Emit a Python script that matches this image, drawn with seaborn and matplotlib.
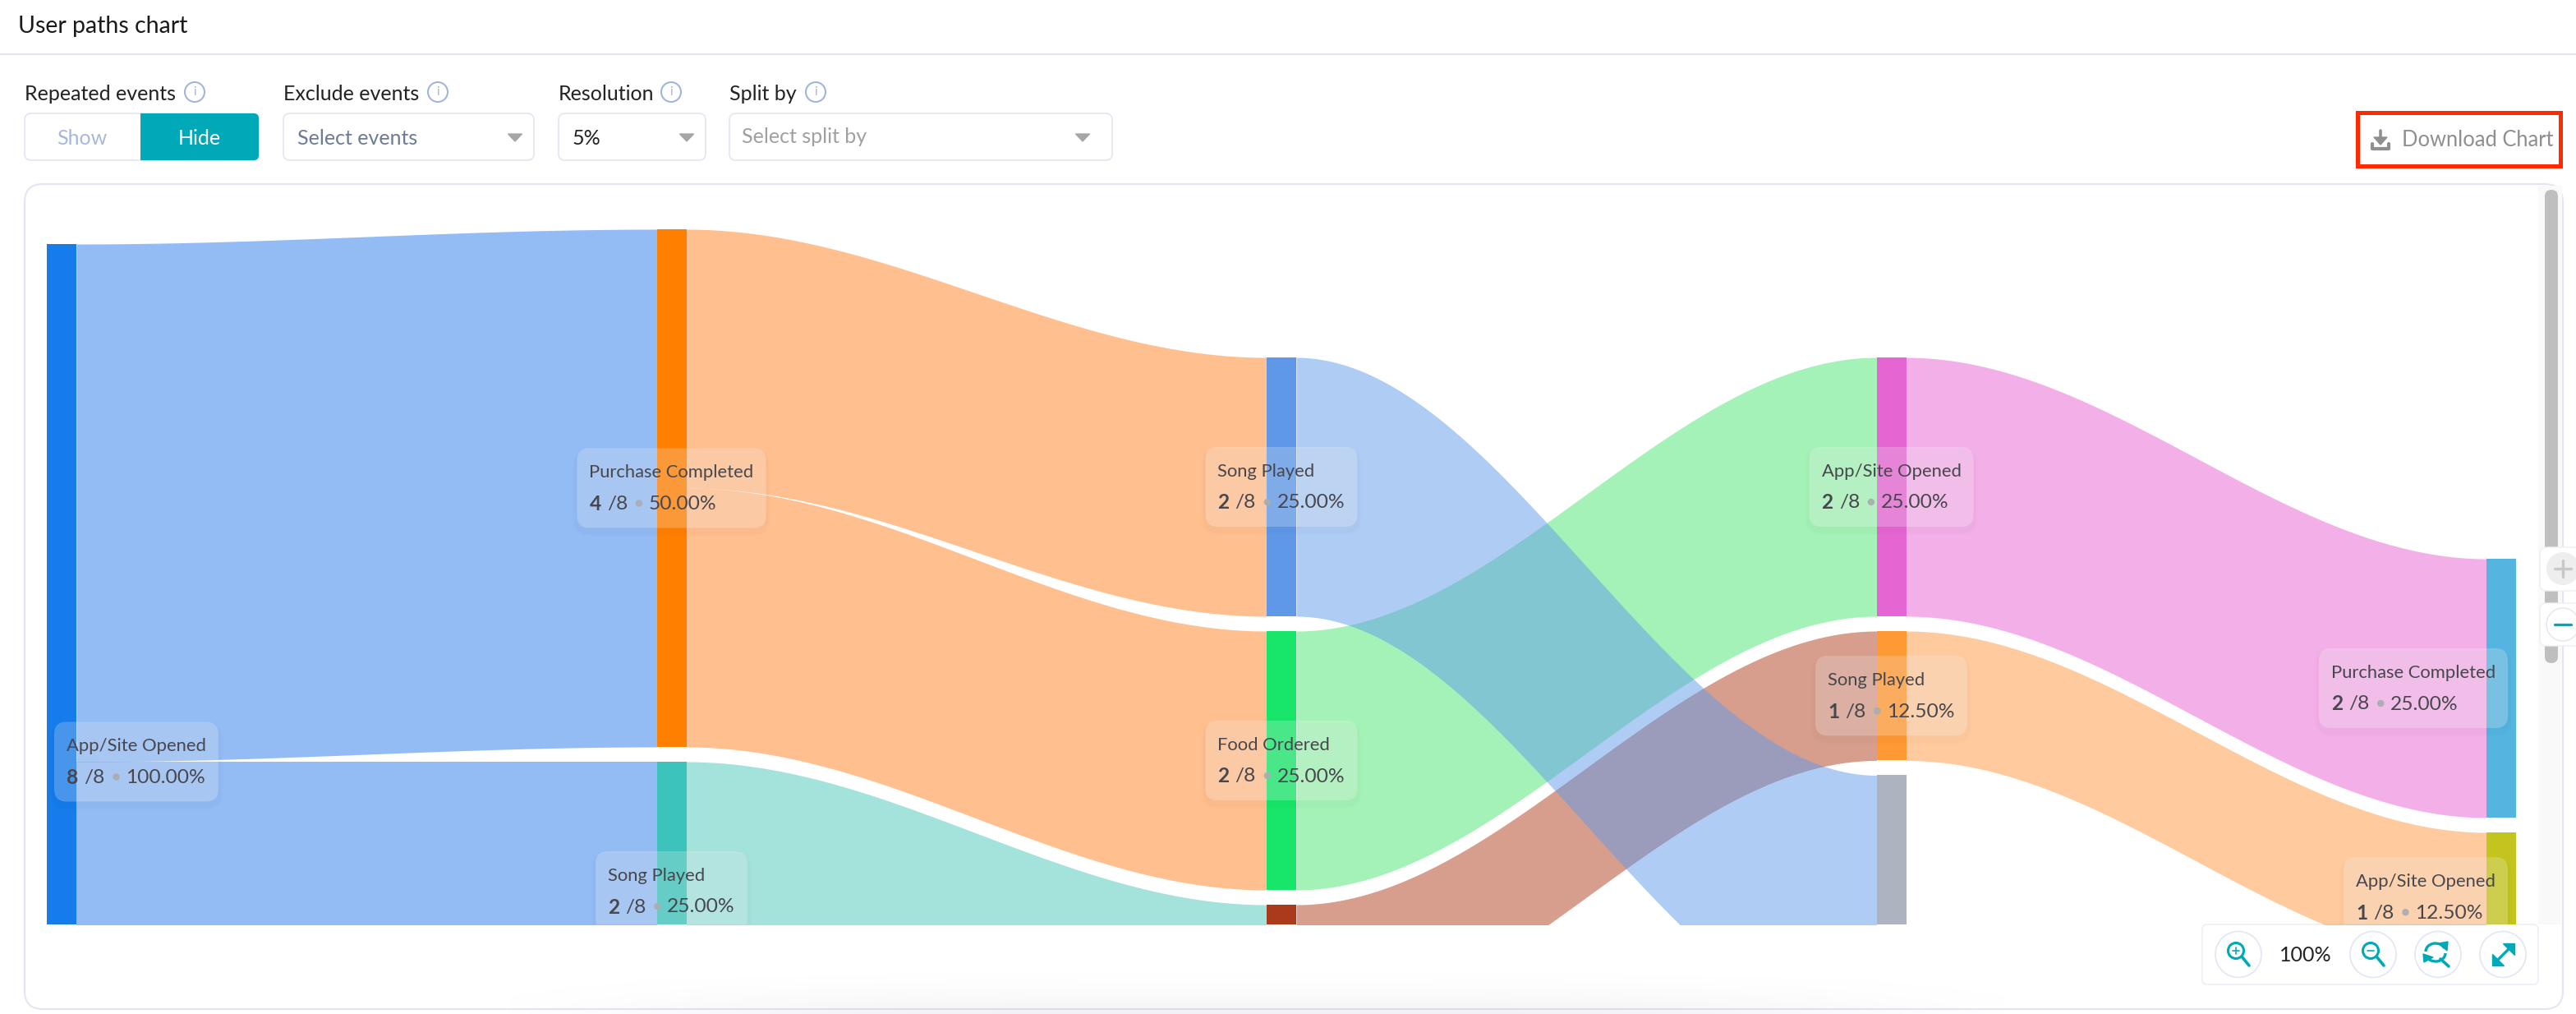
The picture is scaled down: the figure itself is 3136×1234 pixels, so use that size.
"""
User paths chart: sankey de eventos com a moldura da tela do produto.
"""
import numpy as np
import pandas as pd
import matplotlib
matplotlib.use('Agg')
import matplotlib.pyplot as plt
import seaborn as sns
from matplotlib.patches import FancyBboxPatch, Rectangle, Circle, Polygon, Arc

# dados do sankey
STEP_NAMES = [
    ['App/Site Opened'],
    ['Purchase Completed', 'Song Played'],
    ['Song Played', 'Food Ordered', None],
    ['App/Site Opened', 'Song Played', None],
    ['Purchase Completed', 'App/Site Opened'],
]
STEP_USERS = [[8], [4, 2], [2, 2, 2], [2, 1, 2], [2, 1]]
STEP_COLORS = [
    ['#167ceb'],
    ['#ff8000', '#3cc4bc'],
    ['#6098e8', '#18e66a', '#ab3a1c'],
    ['#e566d2', '#ff9933', '#aeb4bf'],
    ['#55b5e0', '#c4c41f'],
]
# (etapa de origem, nó de origem, nó de destino, usuários)
FLOW_STEP = [0, 0, 1, 1, 1, 2, 2, 2, 3, 3]
FLOW_SRC = [0, 0, 0, 0, 1, 1, 2, 0, 0, 1]
FLOW_DST = [0, 1, 0, 1, 2, 0, 1, 2, 0, 1]
FLOW_USERS = [4, 2, 2, 2, 2, 2, 1, 2, 2, 1]
FLOW_COLORS = ['#2979eb', '#2979eb', '#ff8121', '#ff8121', '#4bc7bb',
               '#4be771', '#b13f1d', '#619beb', '#e963d3', '#ff993f']
TOTAL_USERS = 8

# layout em pixels
W, H = 3136, 1234
STEP_X0, STEP_DX = 75, 742.5
NODE_W = 36
USER_H = 157.5
NODE_GAP = 18
COL_TOPS = [297, 279, 435, 435, 680]
CLIP_TOP, CLIP_BOTTOM = 224, 1125
CURVE = 0.35
FLOW_ALPHA = 0.5

TEAL = '#00a9b8'
BORDER = '#e2e6f3'
INFO = '#a3b5dc'
FONT = 'Lato'
FS_LABEL = 22
FS_COUNT = 24.5
DARK = '#47474d'

sns.set_theme(style='white', font=FONT)
plt.rcParams['font.family'] = [FONT, 'DejaVu Sans']


def fpx(px):
    """Tamanho de fonte em pixels -> pontos (dpi 100)"""
    return px * 0.72


def rbox(ax, x0, y0, x1, y1, r=10, **kw):
    p = FancyBboxPatch((x0, y0), x1 - x0, y1 - y0,
                       boxstyle=f'round,pad=0,rounding_size={r}', **kw)
    ax.add_patch(p)
    return p


def node_tops(step):
    """Topo de cada nó da etapa, em unidades de usuários"""
    top = (COL_TOPS[step] - COL_TOPS[1]) / USER_H
    tops = []
    for users in STEP_USERS[step]:
        tops.append(top)
        top += users + NODE_GAP / USER_H
    return tops


def draw_flows(ax):
    hw = NODE_W / STEP_DX / 2
    t = np.linspace(0, 1, 300)
    src_used = {}
    dst_used = {}
    for step, src, dst, users, color in zip(FLOW_STEP, FLOW_SRC, FLOW_DST, FLOW_USERS, FLOW_COLORS):
        s0 = node_tops(step)[src] + src_used.get((step, src), 0)
        d0 = node_tops(step + 1)[dst] + dst_used.get((step + 1, dst), 0)
        src_used[(step, src)] = src_used.get((step, src), 0) + users
        dst_used[(step + 1, dst)] = dst_used.get((step + 1, dst), 0) + users

        x0, x1 = step + hw, step + 1 - hw
        fx = 3 * (1 - t) ** 2 * t * CURVE + 3 * (1 - t) * t ** 2 * (1 - CURVE) + t ** 3
        fy = 3 * t ** 2 - 2 * t ** 3
        x = x0 + (x1 - x0) * fx
        upper = s0 + (d0 - s0) * fy
        lower = upper + users
        ax.fill_between(x, upper, lower, color=color, alpha=FLOW_ALPHA, linewidth=0, zorder=1)


def draw_nodes(ax):
    rows = []
    for step, users in enumerate(STEP_USERS):
        for i, u in enumerate(users):
            rows.append({'step': step, 'users': u, 'top': node_tops(step)[i],
                         'color': STEP_COLORS[step][i]})
    nodes = pd.DataFrame(rows)
    for _, row in nodes.iterrows():
        sns.barplot(x=[row['step']], y=[row['users']], bottom=row['top'],
                    color=row['color'], saturation=1, errorbar=None,
                    native_scale=True, width=NODE_W / STEP_DX, linewidth=0,
                    ax=ax, zorder=3)


def draw_label(ax, renderer, cx, cy, name, users):
    """Caixa translúcida com nome, contagem e percentual"""
    probe = ax.text(0, 0, name, fontsize=fpx(FS_LABEL))
    name_w = probe.get_window_extent(renderer).width
    probe.remove()
    pct = f'{users / TOTAL_USERS * 100:.2f}%'
    parts = [(str(users), 'bold', 0), (f'/{TOTAL_USERS}', 'normal', 7)]
    line_w = 0
    for txt, weight, gap in parts:
        probe = ax.text(0, 0, txt, fontsize=fpx(FS_COUNT), fontweight=weight)
        line_w += probe.get_window_extent(renderer).width + gap
        probe.remove()
    probe = ax.text(0, 0, pct, fontsize=fpx(FS_COUNT))
    pct_w = probe.get_window_extent(renderer).width
    probe.remove()
    line_w += 26 + pct_w

    w = max(name_w, line_w) + 30
    x0 = max(66, min(cx - w / 2, 3053 - w))
    y0 = cy - 48.5
    # sombra só por fora da caixa, para não escurecer o miolo
    for grow, a in [(5, 0.006), (3, 0.01)]:
        rbox(ax, x0 - grow, y0 - grow + 5, x0 + w + grow, y0 + 97 + grow + 5, r=15 + grow,
             facecolor='black', edgecolor='none', alpha=a, zorder=4)
    rbox(ax, x0, y0, x0 + w, y0 + 97, r=15, facecolor='white', edgecolor='none',
         alpha=0.22, zorder=5)

    tx = x0 + 15
    ax.text(tx, y0 + 30, name, fontsize=fpx(FS_LABEL), color=DARK, va='center',
            clip_on=True, zorder=6)
    x = tx
    for txt, weight, gap in parts:
        x += gap
        t = ax.text(x, y0 + 68, txt, fontsize=fpx(FS_COUNT), fontweight=weight, color=DARK,
                    va='center', clip_on=True, zorder=6)
        x += t.get_window_extent(renderer).width
    ax.add_patch(Circle((x + 14, y0 + 67), 3.5, color='#a9adb0', alpha=0.9, zorder=6))
    ax.text(x + 26, y0 + 68, pct, fontsize=fpx(FS_COUNT), color=DARK, va='center',
            clip_on=True, zorder=6)


def draw_magnifier(ax, cx, cy, sign):
    ax.add_patch(Circle((cx - 3, cy - 4), 9.5, fill=False, edgecolor=TEAL, linewidth=2.2, zorder=4))
    ax.plot([cx + 4, cx + 13], [cy + 3, cy + 14], color=TEAL, linewidth=2.6, zorder=4)
    ax.plot([cx - 7, cx + 1], [cy - 4, cy - 4], color=TEAL, linewidth=1.2, zorder=4)
    if sign == '+':
        ax.plot([cx - 3, cx - 3], [cy - 8, cy], color=TEAL, linewidth=1.2, zorder=4)


def draw_chrome(ax):
    ax.plot([0, W], [65.5, 65.5], color='#e3e6f0', linewidth=1.5)
    ax.text(22, 32, 'User paths chart', fontsize=fpx(28.5), color='#1a1a1a', va='center')

    # filtros
    for x, label, ix in [(30, 'Repeated events', 237), (345, 'Exclude events', 533),
                         (680, 'Resolution', 817), (888, 'Split by', 993)]:
        ax.text(x, 115, label, fontsize=fpx(25), color='#222222', va='center')
        ax.add_patch(Circle((ix, 112), 12, fill=False, edgecolor=INFO, linewidth=1.5))
        ax.text(ix, 112, 'i', fontsize=fpx(15), color=INFO, ha='center', va='center')

    rbox(ax, 30, 138, 315, 195, r=8, facecolor='white', edgecolor=BORDER, linewidth=1.2)
    rbox(ax, 171, 138, 315, 195, r=6, facecolor=TEAL, edgecolor='none')
    ax.add_patch(Rectangle((171, 138), 20, 57, facecolor=TEAL, edgecolor='none'))
    ax.text(100, 168, 'Show', fontsize=fpx(25), color='#a9b8da', ha='center', va='center')
    ax.text(243, 168, 'Hide', fontsize=fpx(25), color='white', ha='center', va='center')

    selects = [(345, 650, 'Select events', 362, 169, '#6f7b96', 627),
               (680, 859, '5%', 697, 169, '#222222', 836),
               (888, 1354, 'Select split by', 903, 166, '#a0a0a0', 1318)]
    for x0, x1, txt, tx, ty, col, tri in selects:
        rbox(ax, x0, 138, x1, 195, r=8, facecolor='white', edgecolor=BORDER, linewidth=1.2)
        ax.text(tx, ty, txt, fontsize=fpx(25), color=col, va='center')
        ax.add_patch(Polygon([(tri - 8.5, 163), (tri + 8.5, 163), (tri, 172)], color='#a6a6a6'))

    # download
    ax.add_patch(Rectangle((2870.5, 136.5), 247, 65, fill=False, edgecolor='#ff2a00', linewidth=3.6))
    gray = '#8f8f8f'
    ax.plot([2898, 2898], [159, 174], color=gray, linewidth=2.6)
    ax.add_patch(Polygon([(2890, 167), (2906, 167), (2898, 176)], color=gray))
    ax.plot([2888.5, 2888.5, 2908.5, 2908.5], [175, 181, 181, 175], color=gray, linewidth=3,
            solid_joinstyle='round')
    ax.text(2924, 171, 'Download Chart', fontsize=fpx(25.5), color=gray, va='center')

    # painel do gráfico
    rbox(ax, 30, 224, 3120, 1228, r=22, facecolor='white', edgecolor=BORDER, linewidth=1.5)

    # sombra difusa embaixo do painel
    xx = np.linspace(-1, 1, 400)
    yy = np.linspace(0, 1, 60)
    shade = np.exp(-(xx / 0.8) ** 4)[None, :] * (yy[:, None] ** 2)
    rgba = np.zeros((60, 400, 4))
    rgba[..., :3] = 0.55
    rgba[..., 3] = 0.11 * shade
    ax.imshow(rgba, extent=(620, 2440, H, H - 60), aspect='auto', zorder=2)
    ax.set_xlim(0, W)
    ax.set_ylim(H, 0)

    # barra de rolagem
    ax.add_patch(Rectangle((3090, 226), 29, CLIP_BOTTOM - 226, facecolor='#f9f9f9', edgecolor='none', zorder=2))
    rbox(ax, 3098, 231, 3114, 807, r=8, facecolor='#bfbfbf', edgecolor='none', zorder=2)
    for y0, y1 in [(666, 719), (734, 786)]:
        rbox(ax, 3092, y0, 3150, y1, r=8, facecolor='white', edgecolor='#eef0f5', linewidth=1, zorder=3)
    ax.add_patch(Circle((3120, 692), 20, facecolor='#eeeeee', edgecolor='none', zorder=4))
    ax.plot([3110, 3130], [692, 692], color='#c8c8c8', linewidth=2.4, zorder=5)
    ax.plot([3120, 3120], [682, 702], color='#c8c8c8', linewidth=2.4, zorder=5)
    ax.add_patch(Circle((3120, 760), 20, facecolor='white', edgecolor=BORDER, linewidth=1, zorder=4))
    ax.plot([3110, 3130], [760, 760], color=TEAL, linewidth=2.4, zorder=5)

    # controles de zoom
    rbox(ax, 2681, 1125, 3090, 1198, r=6, facecolor='white', edgecolor='#eceff7', linewidth=1.2, zorder=3)
    for cx in [2725, 2889, 2968, 3047]:
        ax.add_patch(Circle((cx, 1161.5), 28, facecolor='white', edgecolor=BORDER, linewidth=1.2, zorder=3))
    ax.text(2807, 1162, '100%', fontsize=fpx(25), color='#222222', ha='center', va='center', zorder=4)
    draw_magnifier(ax, 2725, 1161, '+')
    draw_magnifier(ax, 2889, 1161, '-')
    ax.add_patch(Arc((2965, 1158), 24, 20, theta1=180, theta2=340, color=TEAL, linewidth=2.4, zorder=4))
    ax.add_patch(Arc((2965, 1160), 24, 20, theta1=0, theta2=160, color=TEAL, linewidth=2.4, zorder=4))
    ax.add_patch(Polygon([(2969, 1148), (2980, 1146), (2979, 1157)], color=TEAL, zorder=4))
    ax.add_patch(Polygon([(2950, 1161), (2962, 1165), (2951, 1171)], color=TEAL, zorder=4))
    ax.plot([2971, 2981], [1167, 1176], color=TEAL, linewidth=2.6, zorder=4)
    ax.plot([3038, 3057], [1171, 1152], color=TEAL, linewidth=2.4, zorder=4)
    ax.add_patch(Polygon([(3047, 1148), (3061, 1148), (3061, 1162)], color=TEAL, zorder=4))
    ax.add_patch(Polygon([(3034, 1161), (3034, 1175), (3048, 1175)], color=TEAL, zorder=4))


def main():
    fig = plt.figure(figsize=(W / 100, H / 100), dpi=100, facecolor='white')

    ax_ui = fig.add_axes([0, 0, 1, 1])
    ax_ui.set_axis_off()
    ax_ui.set_xlim(0, W)
    ax_ui.set_ylim(H, 0)
    draw_chrome(ax_ui)

    # sankey: x em etapas, y em usuários
    rect = [0, 1 - CLIP_BOTTOM / H, 1, (CLIP_BOTTOM - CLIP_TOP) / H]
    ax = fig.add_axes(rect, zorder=2)
    draw_flows(ax)
    draw_nodes(ax)
    ax.set_xlim((0 - STEP_X0) / STEP_DX, (W - STEP_X0) / STEP_DX)
    ax.set_ylim((CLIP_BOTTOM - COL_TOPS[1]) / USER_H, (CLIP_TOP - COL_TOPS[1]) / USER_H)
    ax.set_axis_off()
    ax.patch.set_alpha(0)

    # rótulos em pixels, recortados na mesma área
    ax_lab = fig.add_axes(rect, zorder=3)
    ax_lab.set_xlim(0, W)
    ax_lab.set_ylim(CLIP_BOTTOM, CLIP_TOP)
    ax_lab.set_axis_off()
    ax_lab.patch.set_alpha(0)

    renderer = fig.canvas.get_renderer()
    for step, names in enumerate(STEP_NAMES):
        tops = node_tops(step)
        for i, name in enumerate(names):
            if name is None:
                continue
            users = STEP_USERS[step][i]
            disp = ax.transData.transform((step, tops[i] + users / 2))
            cx, cy = ax_lab.transData.inverted().transform(disp)
            draw_label(ax_lab, renderer, cx, cy, name, users)

    fig.savefig('out.png', dpi=100, facecolor='white')
    plt.close(fig)


if __name__ == '__main__':
    main()
